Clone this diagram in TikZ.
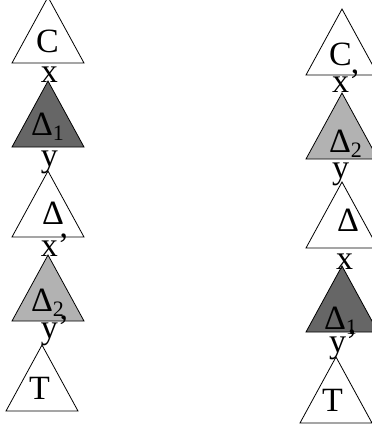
\documentclass[tikz,border=0pt]{standalone}
\usepackage{fontspec}
\setmainfont{Liberation Serif}
\definecolor{darkfill}{RGB}{102,102,102}
\definecolor{lightfill}{RGB}{178,178,178}
\tikzset{
  tri/.style={draw=black, line width=0.8pt, line join=miter},
  lbl/.style={anchor=base west, inner sep=0pt, outer sep=0pt, font=\fontsize{34}{36}\selectfont},
}
\newcommand{\sbs}[1]{\raisebox{-5pt}{\fontsize{22}{22}\selectfont #1}}
\begin{document}
\begin{tikzpicture}[x=1pt,y=-1pt]
\useasboundingbox (0,0) rectangle (372,429);
% left column triangles
\filldraw[tri, fill=white]     (48,-3)  -- (12,63)  -- (84,63)  -- cycle;
\filldraw[tri, fill=darkfill]  (48,81)  -- (12,147) -- (84,147) -- cycle;
\filldraw[tri, fill=white]     (48,171) -- (12,237) -- (84,237) -- cycle;
\filldraw[tri, fill=lightfill] (48,255) -- (12,321) -- (84,321) -- cycle;
\filldraw[tri, fill=white]     (42,345) -- (6,411)  -- (78,411) -- cycle;
% right column triangles
\filldraw[tri, fill=white]     (342,9)   -- (306,75)  -- (378,75)  -- cycle;
\filldraw[tri, fill=lightfill] (342,93)  -- (306,159) -- (378,159) -- cycle;
\filldraw[tri, fill=white]     (342,182) -- (306,248) -- (378,248) -- cycle;
\filldraw[tri, fill=darkfill]  (342,266) -- (306,332) -- (378,332) -- cycle;
\filldraw[tri, fill=white]     (336,357) -- (300,423) -- (372,423) -- cycle;
% left labels
\node[lbl] (lC)  at (36,52)  {C};
\node[lbl] (lx)  at (41,82)  {x};
\node[lbl] (lD1) at (31,135) {Δ\sbs{1}};
\node[lbl] (ly)  at (41,166) {y};
\node[lbl] (lD)  at (42,224) {Δ};
\node[lbl] (lxp) at (41,256) {x’};
\node[lbl] (lD2) at (31,311) {Δ\sbs{2}};
\node[lbl] (lyp) at (41,338) {y’};
\node[lbl] (lT)  at (29,399) {T};
% right labels
\node[lbl] (rC)  at (329,65)  {C};
\node[lbl] (rxp) at (332,92)  {x’};
\node[lbl] (rD2) at (329,152) {Δ\sbs{2}};
\node[lbl] (ry)  at (332,178) {y};
\node[lbl] (rD)  at (337,231) {Δ};
\node[lbl] (rx)  at (336,269) {x};
\node[lbl] (rD1) at (324,329) {Δ\sbs{1}};
\node[lbl] (ryp) at (329,352) {y’};
\node[lbl] (rT)  at (322,411) {T};
\end{tikzpicture}
\end{document}
